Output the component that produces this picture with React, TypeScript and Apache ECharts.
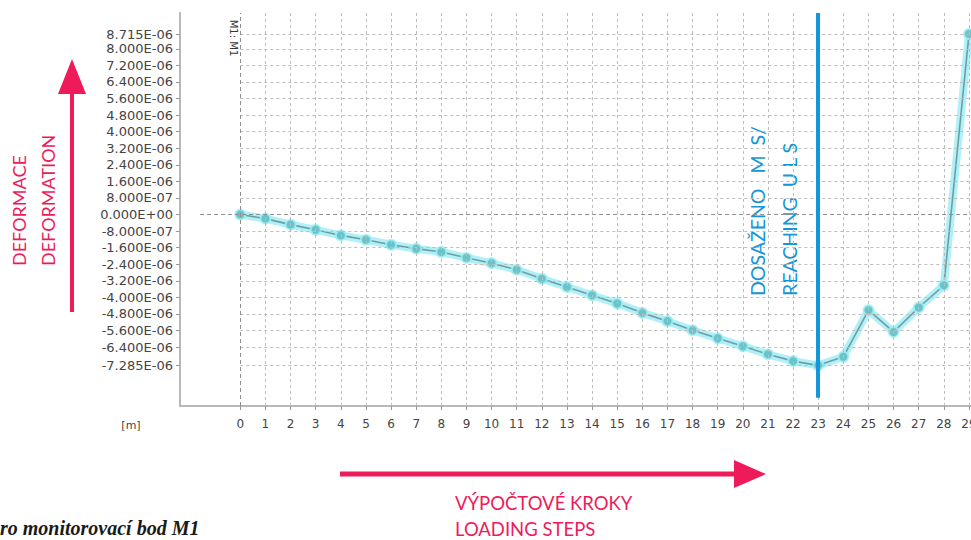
import React, { useEffect, useRef } from "react";
import * as echarts from "echarts";

const steps: number[] = Array.from({ length: 30 }, (_, i) => i);
const deformation: number[] = [
  0, -0.2, -0.49, -0.74, -1.01, -1.22, -1.46, -1.65, -1.81, -2.09,
  -2.35, -2.67, -3.1, -3.5, -3.9, -4.3, -4.75, -5.15, -5.59, -5.98,
  -6.36, -6.75, -7.08, -7.285, -6.87, -4.62, -5.67, -4.49, -3.42, 8.715,
].map((v) => v * 1e-6);
const yTickValues: number[] = [
  -7.285, -6.4, -5.6, -4.8, -4.0, -3.2, -2.4, -1.6, -0.8, 0,
  0.8, 1.6, 2.4, 3.2, 4.0, 4.8, 5.6, 6.4, 7.2, 8.0, 8.715,
].map((v) => v * 1e-6);
const ulsStep = 23;

const X_MIN = -2.4;
const X_MAX = 29.08;
const Y_MIN = -9.247e-6;
const Y_MAX = 9.729e-6;

function fmt(v: number): string {
  let s = v.toExponential(3).toUpperCase();
  s = s.replace(/E([+-])(\d)$/, "E$10$2");
  return s;
}

const RED = "#ee1b5b";
const BLUE = "#1596d6";
const gridColor = "#bdbdbd";

export default function App() {
  const ref = useRef<HTMLDivElement>(null);
  useEffect(() => {
    if (!ref.current) return;
    const chart = echarts.init(ref.current, null, { renderer: "svg" });

    const hLines = yTickValues
      .filter((v) => Math.abs(v) > 1e-12)
      .map((v) => [
        { coord: [0, v], lineStyle: { color: gridColor, width: 1, type: [3, 3] } },
        { coord: [X_MAX, v] },
      ]);
    const vLines = steps
      .filter((s) => s !== 0)
      .map((s) => [
        { coord: [s, Y_MIN], lineStyle: { color: gridColor, width: 1, type: [3, 3] } },
        { coord: [s, Y_MAX] },
      ]);
    const zeroLines = [
      [
        { coord: [-1.6, 0], lineStyle: { color: "#8f8f8f", width: 1, type: [4, 3] } },
        { coord: [X_MAX, 0] },
      ],
      [
        { coord: [0, Y_MIN], lineStyle: { color: "#8f8f8f", width: 1, type: [4, 3] } },
        { coord: [0, Y_MAX] },
      ],
    ];
    const ulsLine = [
      [
        { coord: [ulsStep, -8.85e-6], lineStyle: { color: BLUE, width: 4, type: "solid" } },
        { coord: [ulsStep, Y_MAX] },
      ],
    ];

    const labelFont = "DejaVu Sans";
    const redFont = "Lato";
    const txt = (extra: any) => ({
      align: "left",
      verticalAlign: "middle",
      textAlign: "left",
      textVerticalAlign: "middle",
      ...extra,
    });

    chart.setOption({
      animation: false,
      backgroundColor: "#ffffff",
      grid: {
        left: 180,
        top: 13,
        bottom: 134,
        right: 0,
        containLabel: false,
        outerBoundsMode: "none",
      },
      xAxis: {
        type: "value",
        min: X_MIN,
        max: X_MAX,
        axisLine: { show: true, onZero: false, lineStyle: { color: "#b8b8b8", width: 2 } },
        axisTick: { show: true, customValues: steps, length: 4, lineStyle: { color: "#999" } },
        axisLabel: {
          customValues: steps,
          color: "#444",
          fontFamily: labelFont,
          fontSize: 12,
          margin: 12,
          hideOverlap: false,
          formatter: (v: number) => String(Math.round(v)),
        },
        splitLine: { show: false },
      },
      yAxis: {
        type: "value",
        min: Y_MIN,
        max: Y_MAX,
        axisLine: { show: true, onZero: false, lineStyle: { color: "#b8b8b8", width: 2 } },
        axisTick: { show: true, customValues: yTickValues, length: 4, lineStyle: { color: "#999" } },
        axisLabel: {
          customValues: yTickValues,
          color: "#444",
          fontFamily: labelFont,
          fontSize: 13,
          margin: 7,
          formatter: (v: number) => fmt(v),
        },
        splitLine: { show: false },
      },
      series: [
        {
          type: "line",
          data: [],
          silent: true,
          markLine: {
            silent: true,
            symbol: "none",
            label: { show: false },
            animation: false,
            data: [...hLines, ...vLines, ...zeroLines],
          },
          z: 1,
        },
        {
          type: "line",
          data: steps.map((s, i) => [s, deformation[i]]),
          symbol: "none",
          silent: true,
          clip: false,
          lineStyle: { color: "rgba(150,235,245,0.75)", width: 8 },
          z: 2,
        },
        {
          type: "line",
          data: steps.map((s, i) => [s, deformation[i]]),
          symbol: "circle",
          symbolSize: 10,
          clip: false,
          itemStyle: { color: "#6cc2c6", borderColor: "rgba(160,240,248,0.8)", borderWidth: 2 },
          lineStyle: { color: "#6f9ea2", width: 1.6 },
          z: 3,
        },
        {
          type: "line",
          data: [],
          silent: true,
          markLine: {
            silent: true,
            symbol: "none",
            label: { show: false },
            animation: false,
            data: ulsLine,
          },
          z: 4,
        },
      ],
      graphic: [
        {
          type: "text",
          x: 233,
          y: 38,
          rotation: -Math.PI / 2,
          z: 10,
          style: txt({
            text: "M1: M1",
            fill: "#333",
            font: "10px 'DejaVu Sans'",
            align: "center",
            textAlign: "center",
            backgroundColor: "#fff",
          }),
        },
        {
          type: "text",
          x: 131,
          y: 425,
          style: txt({
            text: "[m]",
            fill: "#444",
            font: "11px 'DejaVu Sans'",
            align: "center",
            textAlign: "center",
          }),
        },
        {
          type: "text",
          x: 757,
          y: 296,
          rotation: Math.PI / 2,
          style: txt({ text: "DOSAŽENO   M  S/", fill: BLUE, font: `19.5px '${redFont}'` }),
        },
        {
          type: "text",
          x: 789,
          y: 296,
          rotation: Math.PI / 2,
          style: txt({ text: "REACHING  U L S", fill: BLUE, font: `19.5px '${redFont}'` }),
        },
        {
          type: "text",
          x: 19,
          y: 266,
          rotation: Math.PI / 2,
          style: txt({ text: "DEFORMACE", fill: RED, font: `18px '${redFont}'` }),
        },
        {
          type: "text",
          x: 48,
          y: 266,
          rotation: Math.PI / 2,
          style: txt({ text: "DEFORMATION", fill: RED, font: `18px '${redFont}'` }),
        },
        {
          type: "line",
          shape: { x1: 72, y1: 312, x2: 72, y2: 90 },
          style: { stroke: RED, lineWidth: 4 },
        },
        {
          type: "polygon",
          shape: { points: [[72, 59], [58, 94], [86, 94]] },
          style: { fill: RED },
        },
        {
          type: "line",
          shape: { x1: 340, y1: 474, x2: 740, y2: 474 },
          style: { stroke: RED, lineWidth: 5 },
        },
        {
          type: "polygon",
          shape: { points: [[766, 474], [734, 460], [734, 488]] },
          style: { fill: RED },
        },
        {
          type: "text",
          x: 455,
          y: 503,
          style: txt({ text: "VÝPOČTOVÉ KROKY", fill: RED, font: `18.5px '${redFont}'` }),
        },
        {
          type: "text",
          x: 455,
          y: 529,
          style: txt({ text: "LOADING STEPS", fill: RED, font: `18.5px '${redFont}'` }),
        },
        {
          type: "text",
          x: 0,
          y: 528,
          style: txt({
            text: "ro monitorovací bod M1",
            fill: "#1a1a1a",
            font: "italic bold 20px 'Liberation Serif'",
          }),
        },
      ],
    });
    return () => chart.dispose();
  }, []);
  return (
    <div
      ref={ref}
      style={{ position: "absolute", left: 0, top: 0, width: 971, height: 540, background: "#fff" }}
    />
  );
}
